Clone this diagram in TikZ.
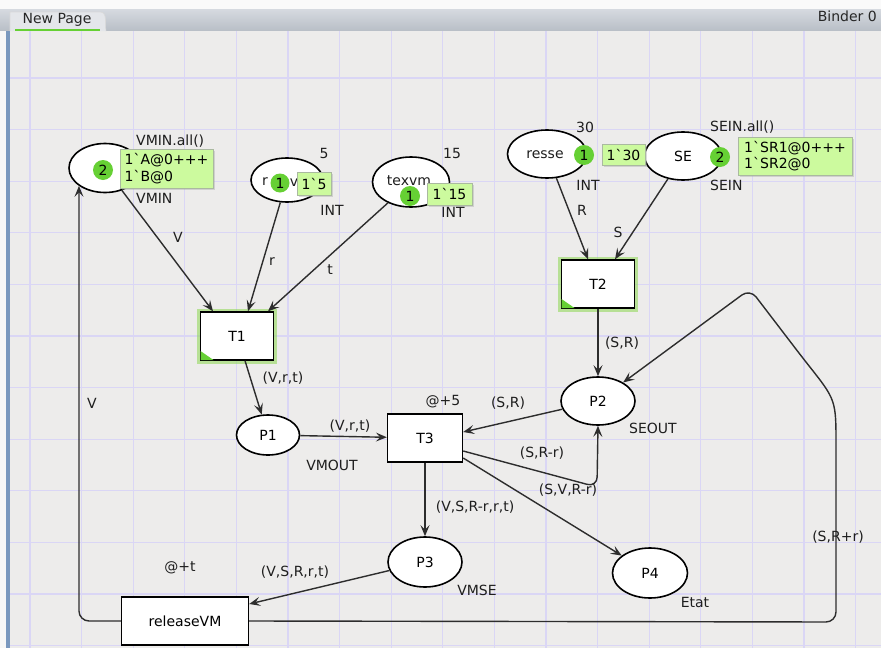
\documentclass[tikz,border=0pt]{standalone}
\usepackage{fontspec}
\setmainfont{DejaVu Sans}
\usetikzlibrary{shapes.geometric,arrows.meta,shadows}
\definecolor{canvasbg}{RGB}{237,236,235}
\definecolor{gridc}{RGB}{218,214,245}
\definecolor{tokgreen}{RGB}{102,208,52}
\definecolor{boxgreen}{RGB}{204,250,158}
\definecolor{boxedge}{RGB}{170,185,160}
\definecolor{glowgreen}{RGB}{140,215,80}
\definecolor{arcc}{RGB}{45,45,45}
\definecolor{hdrtop}{RGB}{214,218,224}
\definecolor{hdrbot}{RGB}{184,190,198}
\definecolor{tabc}{RGB}{228,230,234}
\definecolor{leftbar}{RGB}{122,152,190}
\definecolor{txt}{RGB}{30,30,30}
\tikzset{
  place/.style={ellipse, draw=black, line width=1.6pt, fill=white, inner sep=0pt},
  trans/.style={rectangle, draw=black, line width=1.4pt, fill=white, minimum width=73pt, minimum height=48pt, inner sep=0pt},
  glow/.style={preaction={draw=glowgreen, line width=7pt, opacity=.55}},
  token/.style={circle, fill=tokgreen, inner sep=0pt, minimum size=20pt},
  tokbox/.style={rectangle, fill=boxgreen, draw=boxedge, line width=.6pt, inner sep=0pt, align=left,
     drop shadow={shadow xshift=1.5pt, shadow yshift=-1.5pt, fill=black!35, opacity=.4}},
  arc/.style={draw=arcc, line width=1.4pt, -{Stealth[length=11pt,width=9pt,inset=4.5pt]}},
  lbl/.style={text=txt, inner sep=0pt},
  gridline/.style={draw=gridc, line width=1.2pt}
}
\begin{document}
\begin{tikzpicture}[x=1pt,y=-1pt, font=\fontsize{14}{16.5}\selectfont]
\useasboundingbox (0,0) rectangle (881,648);
% header and canvas
\fill[white!96!gray] (0,0) rectangle (881,9);
\shade[top color=hdrtop, bottom color=hdrbot] (0,9) rectangle (881,31);
\fill[canvasbg] (10,31) rectangle (881,648);
\fill[white!94!gray] (0,31) rectangle (6,648);
\fill[leftbar] (6,31) rectangle (10,648);
\foreach \i in {0,...,16} \draw[gridline] ({30+51.6*\i},31) -- ({30+51.6*\i},648);
\foreach \j in {0,...,11} \draw[gridline] (10,{78+51.6*\j}) -- (881,{78+51.6*\j});
\fill[tabc] (10,31) -- (10,12) -- (100,12) to[out=0,in=100] (106,31) -- cycle;
\draw[white!70!gray, line width=.6pt] (10,31) -- (10,12) -- (100,12) to[out=0,in=100] (106,31);
\node[lbl, text=black!85] (tabname) at (57,20) {New Page};
\draw[tokgreen, line width=2pt] (15,29.5) -- (100,29.5);
\node[lbl, anchor=east, text=black!85] (binder) at (877,16) {Binder 0};

% places
\node[place, minimum width=72pt, minimum height=49pt] (VMIN) at (105,168) {};
\node[place, minimum width=72pt, minimum height=44pt] (RV) at (287,180) {};
\node[lbl] (rvA) at (265,182) {r};
\node[lbl] (rvB) at (294,183) {v};
\node[place, minimum width=77pt, minimum height=50pt] (TEXVM) at (411,182) {};
\node[lbl] at (409,181) {texvm};
\node[place, minimum width=79pt, minimum height=48pt] (RESSE) at (547,154) {};
\node[lbl] at (545,155) {resse};
\node[place, minimum width=77pt, minimum height=48pt] (SE) at (683,156) {SE};
\node[place, minimum width=63pt, minimum height=40pt] (P1) at (268,435) {P1};
\node[place, minimum width=74pt, minimum height=48pt] (P2) at (598,401) {P2};
\node[place, minimum width=74pt, minimum height=50pt] (P3) at (425,562) {P3};
\node[place, minimum width=75pt, minimum height=50pt] (P4) at (650,573) {P4};

% transitions
\node[trans, glow] (T1) at (237,336) {T1};
\node[trans, glow] (T2) at (598,284) {T2};
\node[trans, minimum width=75pt] (T3) at (425,438) {T3};
\node[trans, minimum width=127pt, minimum height=48pt] (REL) at (185,621) {releaseVM};
\fill[tokgreen] ([shift={(0.7pt,0.7pt)}]T1.south west) -- ++(13,0) -- ++(-13,-9) -- cycle;
\fill[tokgreen] ([shift={(0.7pt,0.7pt)}]T2.south west) -- ++(13,0) -- ++(-13,-9) -- cycle;

% arcs
\draw[arc] (VMIN) -- ([xshift=-24pt]T1.north);
\draw[arc] (RV) -- ([xshift=11pt]T1.north);
\draw[arc] (TEXVM) -- ([xshift=31pt]T1.north);
\draw[arc] ([xshift=8pt]T1.south) -- (P1);
\draw[arc] (P1) -- (T3);
\draw[arc] (P2) -- ([yshift=6pt]T3.east);
\draw[arc, rounded corners=10pt] ([yshift=-13pt]T3.east) -- (597,487) -- (P2.south);
\draw[arc] (T3) -- (P3);
\draw[arc] ([yshift=-20pt]T3.east) -- (P4);
\draw[arc] (P3) -- ([yshift=17pt]REL.east);
\draw[arc, rounded corners=10pt] (REL.west) -- (VMIN.south west |- REL.west) -- (VMIN.south west);
\draw[arc, rounded corners=10pt] (REL.east) -- (836,622) -- (836,455) .. controls (836,400) .. (802,357) -- (750,289) -- (P2);
\draw[arc] (RESSE) -- ([xshift=-10pt]T2.north);
\draw[arc] (SE) -- ([xshift=17pt]T2.north);
\draw[arc] (T2) -- (P2);

% tokens and token boxes
\node[token] (tokVMIN) at (103,170) {2};
\node[tokbox, minimum width=93pt, minimum height=39pt] (boxVMIN) at (166.5,168.5) {1\textasciigrave A@0+++\\1\textasciigrave B@0};
\node[token, minimum size=19pt] (tokRV) at (280,183) {1};
\node[tokbox, minimum width=34pt, minimum height=23pt] (boxRV) at (314,183.5) {1\textasciigrave 5};
\node[token] (tokTEXVM) at (410,196) {1};
\node[tokbox, minimum width=45pt, minimum height=22pt] (boxTEXVM) at (449.5,194) {1\textasciigrave 15};
\node[token] (tokRESSE) at (584,155) {1};
\node[tokbox, minimum width=43pt, minimum height=21pt] (boxRESSE) at (623.5,155) {1\textasciigrave 30};
\node[token] (tokSE) at (720,157) {2};
\node[tokbox, minimum width=114pt, minimum height=38pt] (boxSE) at (795,156) {1\textasciigrave SR1@0+++\\1\textasciigrave SR2@0};

% place inscriptions
\node[lbl, anchor=west] at (136,141) {VMIN.all()};
\node[lbl, anchor=west] at (136,198) {VMIN};
\node[lbl] at (324,153) {5};
\node[lbl] at (332,210) {INT};
\node[lbl] at (452,153) {15};
\node[lbl] at (453,212) {INT};
\node[lbl] at (585,127) {30};
\node[lbl] at (588,185) {INT};
\node[lbl, anchor=west] at (710,127) {SEIN.all()};
\node[lbl, anchor=west] at (710,185) {SEIN};
\node[lbl] at (332,465) {VMOUT};
\node[lbl] at (653,428) {SEOUT};
\node[lbl] at (477,590) {VMSE};
\node[lbl] at (695,602) {Etat};
\node[lbl] at (443,402) {@+5};
\node[lbl] at (180,568) {@+t};

% arc inscriptions
\node[lbl] at (178,237) {V};
\node[lbl] at (272,262) {r};
\node[lbl] at (330,270) {t};
\node[lbl] at (283,378) {(V,r,t)};
\node[lbl] at (350,426) {(V,r,t)};
\node[lbl] at (508,403) {(S,R)};
\node[lbl] at (542,453) {(S,R-r)};
\node[lbl] at (568,490) {(S,V,R-r)};
\node[lbl] at (475,507) {(V,S,R-r,r,t)};
\node[lbl] at (295,572) {(V,S,R,r,t)};
\node[lbl] at (92,403) {V};
\node[lbl] at (838,537) {(S,R+r)};
\node[lbl] at (582,210) {R};
\node[lbl] at (618,232) {S};
\node[lbl] at (622,343) {(S,R)};
\end{tikzpicture}
\end{document}
